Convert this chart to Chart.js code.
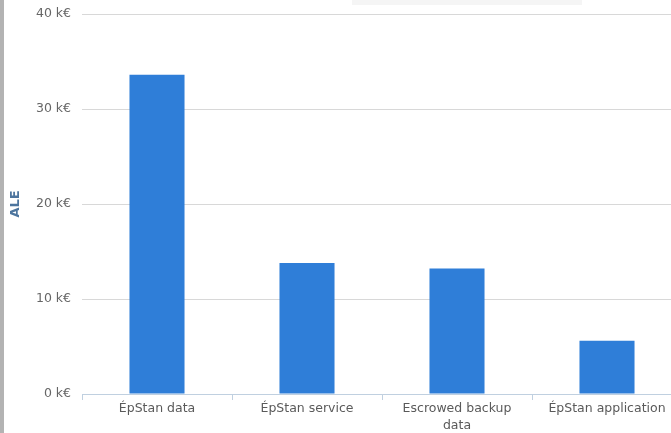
<!DOCTYPE html>
<html><head><meta charset="utf-8">
<script src="https://cdn.jsdelivr.net/npm/chart.js@4/dist/chart.umd.min.js"></script>
<style>
html,body{margin:0;padding:0;background:#fff;overflow:hidden;width:671px;height:433px;}
#wrap{position:absolute;left:0;top:0;width:690px;height:433px;}
#lb{position:absolute;left:0;top:0;width:4px;height:433px;background:#b3b3b3;}
#tb{position:absolute;left:352px;top:0;width:230px;height:5px;background:#f5f5f5;}
</style></head>
<body>
<div id="wrap"><canvas id="c" width="690" height="433"></canvas></div>
<div id="tb"></div>
<div id="lb"></div>
<script>
const categories = ["ÉpStan data", "ÉpStan service", ["Escrowed backup", "data"], "ÉpStan application"];
const aleValues = [33.6, 13.8, 13.2, 5.6];
const yTicks = [0, 10, 20, 30, 40];

new Chart(document.getElementById('c'), {
  type: 'bar',
  data: {
    labels: categories,
    datasets: [{
      label: 'ALE',
      data: aleValues,
      backgroundColor: '#2f7ed8',
      borderWidth: 0,
      categoryPercentage: 1,
      barPercentage: 0.367
    }]
  },
  options: {
    responsive: false,
    animation: false,
    devicePixelRatio: 1,
    layout: {padding: {left: 8, top: 14, right: 8, bottom: 0}},
    plugins: {legend: {display: false}, tooltip: {enabled: false}},
    scales: {
      x: {
        offset: true,
        grid: {display: true, drawOnChartArea: false, drawTicks: true, tickLength: 6, color: '#c0d0e0', offset: true},
        border: {display: true, color: '#c0d0e0'},
        ticks: {color: '#5a5a5a', font: {family: 'DejaVu Sans', size: 12.5, lineHeight: 1.3}, padding: 1, maxRotation: 0, autoSkip: false},
        afterFit: s => { s.height = 39; s.paddingLeft = 0; s.paddingRight = 0; }
      },
      y: {
        min: 0, max: 40,
        afterBuildTicks: s => { s.ticks = yTicks.map(v => ({value: v})); },
        grid: {color: '#d8d8d8', drawTicks: false},
        border: {display: false},
        ticks: {color: '#666', font: {family: 'DejaVu Sans', size: 12.5}, padding: 11, callback: v => v + ' k€'},
        title: {display: true, text: 'ALE', color: '#4d759e', font: {family: 'DejaVu Sans', size: 13, weight: 'bold'}, padding: {top: 0, bottom: 4}},
        afterFit: s => { s.width = 74; s.paddingTop = 0; s.paddingBottom = 0; }
      }
    }
  }
});
</script>
</body></html>
